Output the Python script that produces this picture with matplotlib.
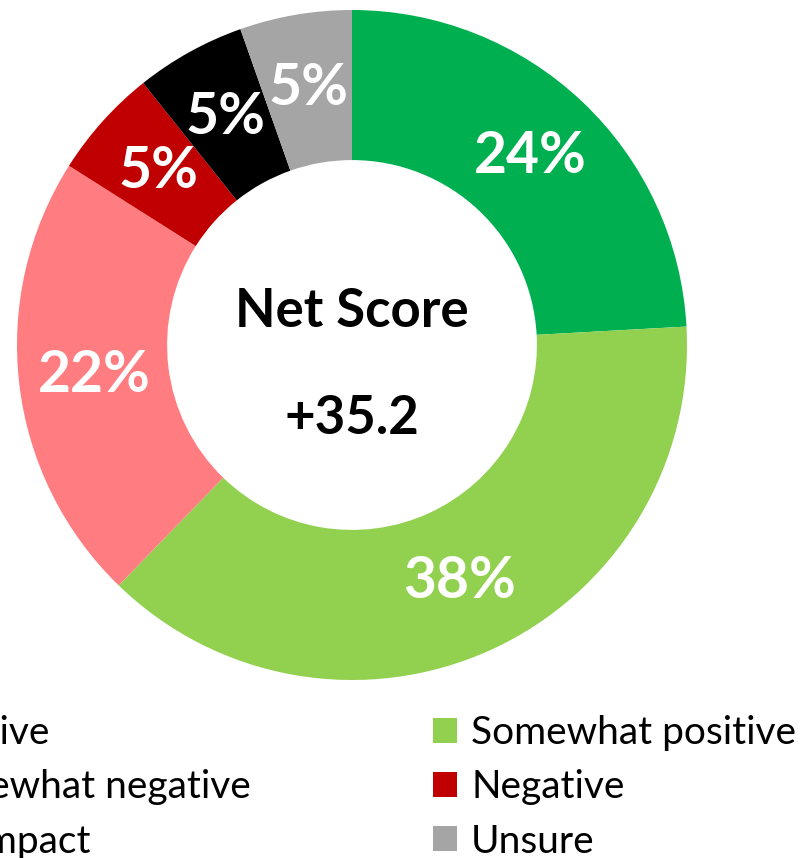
import matplotlib
matplotlib.use("Agg")
import matplotlib.pyplot as plt
from matplotlib.patches import Patch

categories = ["Positive", "Somewhat positive", "Somewhat negative", "Negative", "No impact", "Unsure"]
values = [24.1, 38.1, 21.7, 5.3, 5.3, 5.4]
colors = ["#00B050", "#92D050", "#FF7C80", "#C00000", "#000000", "#A5A5A5"]
center_title = "Net Score"
center_value = "+35.2"

FONT = ["Lato", "DejaVu Sans"]
W, H = 808, 858
fig = plt.figure(figsize=(W / 100, H / 100), dpi=100)

cx, cy, R = 352, 345, 335
ax = fig.add_axes([(cx - R) / W, (H - cy - R) / H, 2 * R / W, 2 * R / H])
total = sum(values)
wedges, texts, autotexts = ax.pie(
    values, colors=colors, startangle=90, counterclock=False, radius=1.0,
    wedgeprops=dict(width=0.448, linewidth=0),
    autopct=lambda p: f"{p * total / 100:.0f}%", pctdistance=0.776,
    textprops=dict(color="white", fontsize=41, fontweight="bold", family=FONT))
ax.set_xlim(-1, 1)
ax.set_ylim(-1, 1)
ax.set_aspect("equal")
ax.axis("off")

ax.text(0, 0.099, center_title, ha="center", va="center", fontsize=38,
        fontweight="bold", family=FONT, color="black")
ax.text(0, -0.218, center_value, ha="center", va="center", fontsize=38,
        fontweight="bold", family=FONT, color="black")

handles = [Patch(facecolor=c, edgecolor="none") for c in colors]
left_idx = [0, 2, 4]
right_idx = [1, 3, 5]
common = dict(loc="upper left", frameon=False, borderpad=0, borderaxespad=0,
              handlelength=0.62, handleheight=0.62, handletextpad=0.36,
              labelspacing=0.47, prop=dict(family=FONT, size=28))
leg1 = fig.legend([handles[i] for i in left_idx], [categories[i] for i in left_idx],
                  bbox_to_anchor=(-124 / W, (H - 715) / H), **common)
leg2 = fig.legend([handles[i] for i in right_idx], [categories[i] for i in right_idx],
                  bbox_to_anchor=(433 / W, (H - 715) / H), **common)

fig.savefig("out.png", dpi=100)
